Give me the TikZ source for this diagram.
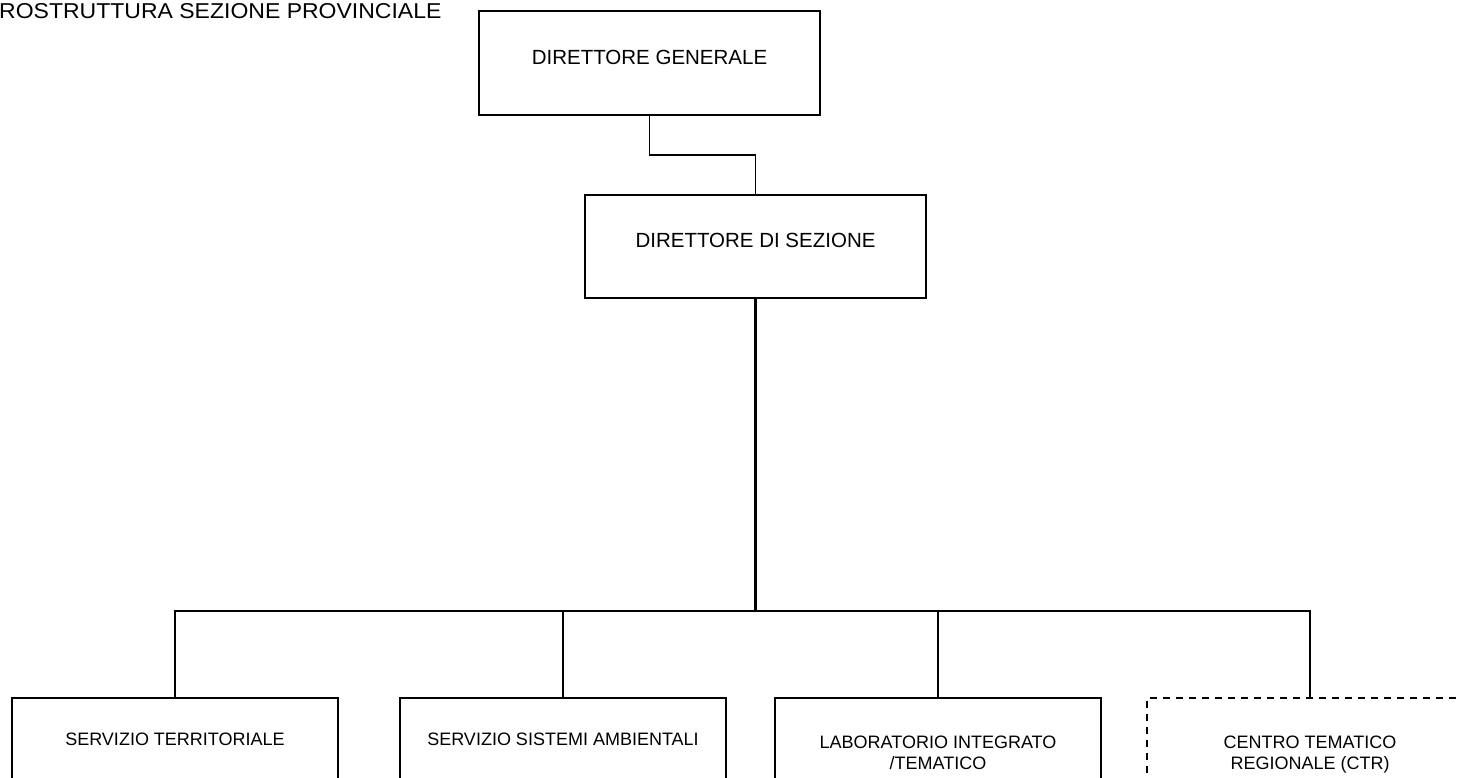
\documentclass[tikz,border=0pt]{standalone}
\usepackage{fontspec}
\setmainfont{Liberation Sans}
\usetikzlibrary{positioning,calc}

\begin{document}
\begin{tikzpicture}[x=1pt,y=-1pt,line join=miter,
  box/.style={draw,line width=1.7pt,minimum width=341pt,minimum height=104pt,anchor=north west,inner sep=0pt,outer sep=0pt},
  unit/.style={box,minimum width=326pt,minimum height=140pt},
  bigtxt/.style={inner sep=0pt,font=\fontsize{20.5}{24}\selectfont},
  smalltxt/.style={inner sep=0pt,align=center,font=\fontsize{18}{20.5}\selectfont},
  link/.style={line width=1.7pt}]
\useasboundingbox (0,0) rectangle (1461,778);
\clip (0,0) rectangle (1461,778);
\node[anchor=north west,inner sep=0pt,xscale=1.07,font=\fontsize{21.5}{26}\selectfont] (title) at (-1,3.5) {ROSTRUTTURA SEZIONE PROVINCIALE};
\node[box] (dg) at (479,11) {};
\node[box,minimum height=103pt] (ds) at (585,195) {};
\node[unit] (st) at (12,698) {};
\node[unit] (ssa) at (400,698) {};
\node[unit] (lab) at (775,698) {};
\node[unit,draw=none] (ctr) at (1147,698) {};
\draw[line width=1.7pt,dash pattern=on 7pt off 6pt] (ctr.south west) -- (ctr.north west) -- (ctr.north east);
\node[bigtxt,below=39pt of dg.north] (dgtxt) {DIRETTORE GENERALE};
\node[bigtxt,below=38pt of ds.north] (dstxt) {DIRETTORE DI SEZIONE};
\node[smalltxt,below=35pt of st.north] (sttxt) {SERVIZIO TERRITORIALE};
\node[smalltxt,below=35pt of ssa.north] (ssatxt) {SERVIZIO SISTEMI AMBIENTALI};
\node[smalltxt,below=38pt of lab.north] (labtxt) {LABORATORIO INTEGRATO\\/TEMATICO};
\node[smalltxt,below=38pt of ctr.north] (ctrtxt) {CENTRO TEMATICO\\REGIONALE (CTR)};
\coordinate (bus) at ($(ds.south)+(0,313)$);
\draw[link] (dg.south) -- ++(0,40) -| (ds.north);
\draw[line width=2.8pt] (ds.south) -- (bus);
\draw[link] (st.north) |- (bus) -| (ctr.north);
\draw[link] (ssa.north) -- (ssa.north |- bus) (lab.north) -- (lab.north |- bus);
\end{tikzpicture}
\end{document}
